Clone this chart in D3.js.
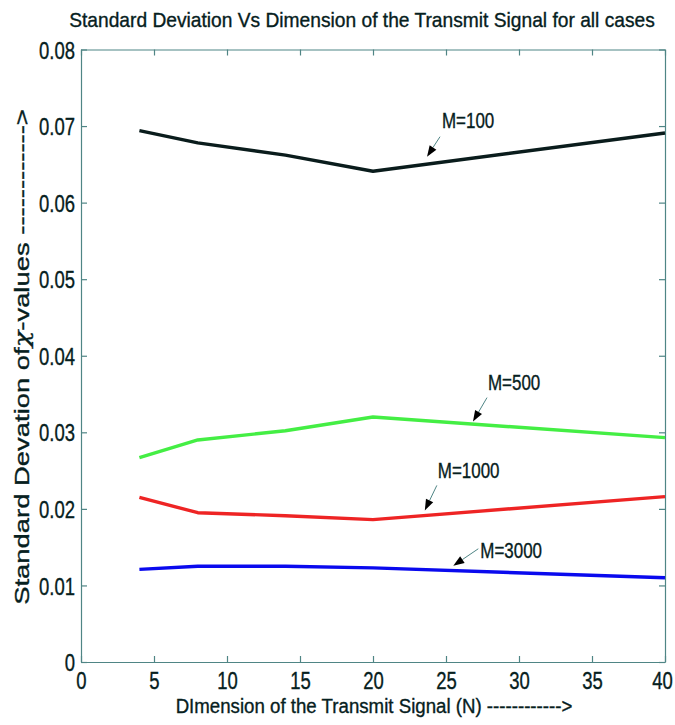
<!DOCTYPE html>
<html>
<head>
<meta charset="utf-8">
<script src="https://cdn.jsdelivr.net/npm/d3@7"></script>
<style>
  body { margin: 0; background: #fff; }
  svg { display: block; }
</style>
</head>
<body>
<script>
// dimension N and std deviation for each M
var dims = [4, 8, 14, 20, 40];
var m100 = [0.0694, 0.0678, 0.0662, 0.0641, 0.0691];
var m500 = [0.0267, 0.0290, 0.0302, 0.0320, 0.0293];
var m1000 = [0.0215, 0.0195, 0.0191, 0.0186, 0.0216];
var m3000 = [0.0121, 0.0125, 0.0125, 0.0123, 0.0110];
var seriesNames = ['M=100', 'M=500', 'M=1000', 'M=3000'];
var xTicks = [0, 5, 10, 15, 20, 25, 30, 35, 40];
var yTicks = [0, 0.01, 0.02, 0.03, 0.04, 0.05, 0.06, 0.07, 0.08];

var W = 675, H = 725;
var margin = {top: 49.5, right: 10, bottom: 63, left: 81};
var colors = ['#0a1c1c', '#44ee44', '#ee2424', '#0a0aee'];
var axisColor = '#4f8585';
var textColor = '#062020';
var font = "'Liberation Sans Narrow', 'Arial Narrow', 'Liberation Sans', Arial, sans-serif";

var svg = d3.select('body').append('svg').attr('width', W).attr('height', H);

// check whether a narrow font is really there, else squeeze glyphs
var probe = svg.append('text').style('font-family', "'Liberation Sans Narrow', 'Arial Narrow', monospace").style('font-size', '20px').text('Standard 0123');
var probe2 = svg.append('text').style('font-family', 'monospace').style('font-size', '20px').text('Standard 0123');
var squeeze = Math.abs(probe.node().getComputedTextLength() - probe2.node().getComputedTextLength()) < 0.5 ? 0.77 : 0.94;
probe.remove(); probe2.remove();

// horizontal squeeze through a transform so the box really shrinks
function condense(sel, s) {
  sel.each(function() {
    var el = d3.select(this);
    var k = s || squeeze;
    var x0 = +el.attr('x') || 0;
    var tr = el.attr('transform') || '';
    el.attr('x', x0 / k).attr('transform', tr + ' scale(' + k + ',1)');
  });
}
function fitTo(sel, width) {
  var w = sel.node().getComputedTextLength();
  condense(sel, width / w);
}
function ink(sel) {
  sel.attr('fill', textColor).attr('stroke', textColor).attr('stroke-width', 0.35)
    .style('font-family', font);
}

var x = d3.scaleLinear().domain([0, 40]).range([margin.left, W - margin.right]);
var y = d3.scaleLinear().domain([0, 0.08]).range([H - margin.bottom, margin.top]);

// box with inward ticks on all four sides
var gx = svg.append('g').attr('transform', 'translate(0,' + y(0) + ')')
  .call(d3.axisBottom(x).tickValues(xTicks).tickSizeInner(-6).tickSizeOuter(0).tickPadding(10).tickFormat(d3.format('d')));
var gxt = svg.append('g').attr('transform', 'translate(0,' + y(0.08) + ')')
  .call(d3.axisTop(x).tickValues(xTicks).tickSizeInner(-6).tickSizeOuter(0).tickFormat(''));
var gy = svg.append('g').attr('transform', 'translate(' + x(0) + ',0)')
  .call(d3.axisLeft(y).tickValues(yTicks).tickSizeInner(-6).tickSizeOuter(0).tickPadding(6)
    .tickFormat(function(d) { return d === 0 ? '0' : d3.format('.2f')(d); }));
var gyr = svg.append('g').attr('transform', 'translate(' + x(40) + ',0)')
  .call(d3.axisRight(y).tickValues(yTicks).tickSizeInner(-6).tickSizeOuter(0).tickFormat(''));

[gx, gxt, gy, gyr].forEach(function(g) {
  g.select('.domain').attr('stroke', axisColor).attr('stroke-width', 1.2);
  g.selectAll('.tick line').attr('stroke', axisColor).attr('stroke-width', 1.2);
  ink(g.selectAll('text'));
  g.selectAll('text').style('font-size', '24px');
});
gy.selectAll('.tick text').attr('dy', '0.36em');
gx.selectAll('.tick text').filter(function(d) { return d === 40; }).attr('x', -3);
condense(gx.selectAll('.tick text'));
condense(gy.selectAll('.tick text'));

// series lines
var line = d3.line().x(function(d, i) { return x(dims[i]); }).y(function(d) { return y(d); });
[m100, m500, m1000, m3000].forEach(function(s, k) {
  svg.append('path').attr('d', line(s)).attr('fill', 'none')
    .attr('stroke', colors[k]).attr('stroke-width', 3.4).attr('stroke-linejoin', 'round');
});

// annotations: arrow tip in data units, tail and text in pixel offsets
var annTips = [[23.7, 0.0660], [26.85, 0.0314], [23.55, 0.0198], [25.5, 0.01257]];
var annTail = [[13, -20], [14, -24], [12, -25], [25, -17]];
var annText = [[15, -29], [15, -32], [13, -32], [27, -8]];

seriesNames.forEach(function(name, k) {
  var tx = x(annTips[k][0]), ty = y(annTips[k][1]);
  var sx = tx + annTail[k][0], sy = ty + annTail[k][1];
  var ang = Math.atan2(ty - sy, tx - sx);
  var L = 11, hw = 4;
  var bx = tx - L * Math.cos(ang), by = ty - L * Math.sin(ang);
  svg.append('line').attr('x1', sx).attr('y1', sy).attr('x2', bx).attr('y2', by)
    .attr('stroke', axisColor).attr('stroke-width', 1);
  svg.append('path')
    .attr('d', 'M' + tx + ',' + ty +
      'L' + (bx + hw * Math.sin(ang)) + ',' + (by - hw * Math.cos(ang)) +
      'L' + (bx - hw * Math.sin(ang)) + ',' + (by + hw * Math.cos(ang)) + 'Z')
    .attr('fill', '#000');
  var t = svg.append('text').attr('x', tx + annText[k][0]).attr('y', ty + annText[k][1])
    .style('font-size', '22px').text(name);
  ink(t);
  condense(t);
});

// title and axis labels
var title = svg.append('text').attr('x', 362).attr('y', 27).attr('text-anchor', 'middle')
  .style('font-size', '21px')
  .text('Standard Deviation Vs Dimension of the Transmit Signal for all cases');
ink(title);
fitTo(title, 586);

var xl = svg.append('text').attr('x', 374).attr('y', 713).attr('text-anchor', 'middle')
  .style('font-size', '21px')
  .text('DImension of the Transmit Signal (N) ------------>');
ink(xl);
fitTo(xl, 397);

var yl = svg.append('text').attr('transform', 'translate(29,357) rotate(-90)').attr('text-anchor', 'middle')
  .style('font-size', '21px');
ink(yl);
yl.append('tspan').text('Standard Devation of');
yl.append('tspan').style('font-family', "'DejaVu Serif', serif").style('font-style', 'italic').text('χ');
yl.append('tspan').text('-values ------------>');
fitTo(yl, 496);
</script>
</body>
</html>
